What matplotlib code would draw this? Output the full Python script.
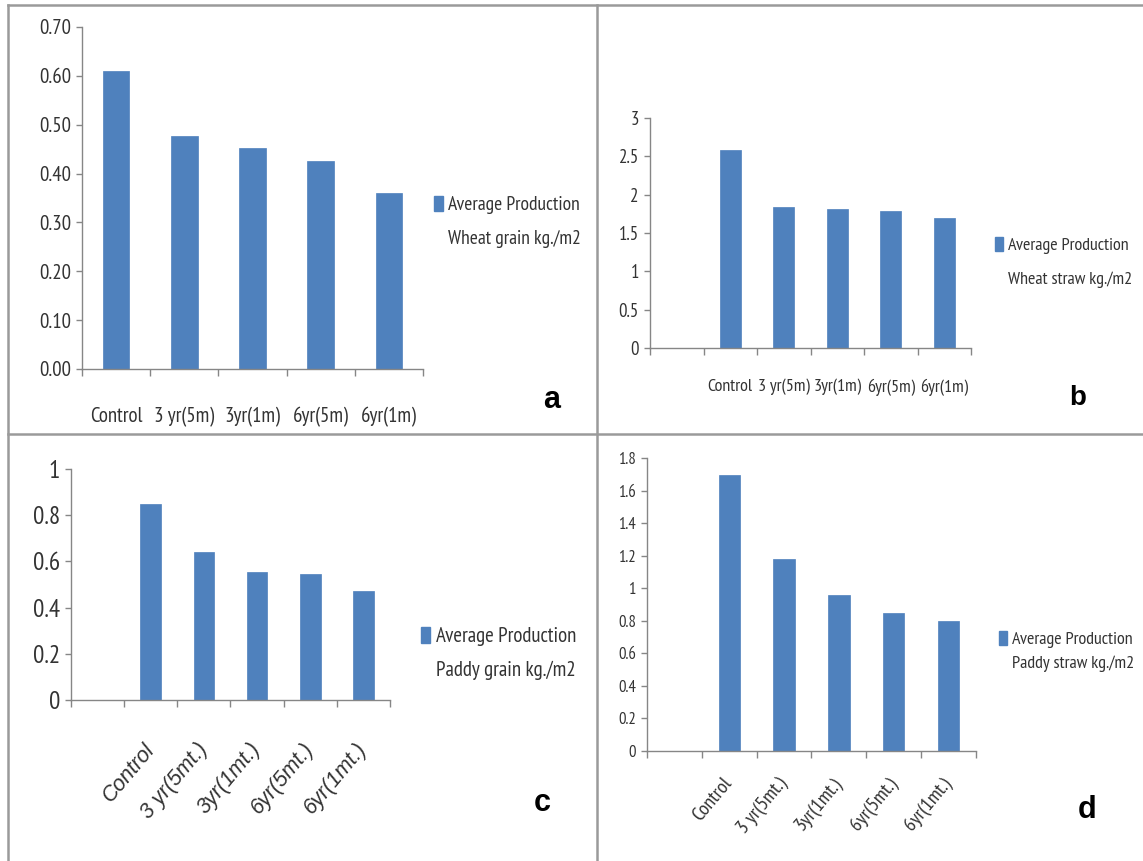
import matplotlib
matplotlib.use("Agg")
import matplotlib.pyplot as plt
from matplotlib.lines import Line2D
from matplotlib.patches import Patch
import numpy as np

# ---------------- data ----------------
cats_ab = ["Control", "3 yr(5m)", "3yr(1m)", "6yr(5m)", "6yr(1m)"]
cats_cd = ["Control", "3 yr(5mt.)", "3yr(1mt.)", "6yr(5mt.)", "6yr(1mt.)"]
wheat_grain = [0.61, 0.476, 0.452, 0.426, 0.36]
wheat_straw = [2.58, 1.84, 1.81, 1.79, 1.69]
paddy_grain = [0.85, 0.64, 0.552, 0.545, 0.473]
paddy_straw = [1.695, 1.178, 0.961, 0.845, 0.80]
legend_line1 = "Average Production"
legend_a = "Wheat grain kg./m2"
legend_b = "Wheat straw kg./m2"
legend_c = "Paddy grain kg./m2"
legend_d = "Paddy straw kg./m2"

W, H = 1143, 861
BAR = "#4F81BD"
AXC = "#868686"
TXT = "#333333"
NARROW = ["PT Sans Narrow", "Carlito", "DejaVu Sans"]
ITALIC = ["Liberation Sans", "DejaVu Sans"]
plt.rcParams["font.family"] = NARROW

fig = plt.figure(figsize=(W / 100, H / 100), dpi=100)
fig.patch.set_facecolor("white")


def rect(l, t, r, b):
    return [l / W, 1 - b / H, (r - l) / W, (b - t) / H]


def fx(x):
    return x / W


def fy(y):
    return 1 - y / H


def panel(box, cats, vals, offset, ylim, yticks, yfmt, tick_fs, cat_fs,
          cat_pad, rot, italic, leg_label, leg_xy, leg_fs, leg_sp, letter,
          letter_xy, letter_fs):
    ax = fig.add_axes(rect(*box))
    n = len(cats) + offset
    pos = np.arange(len(cats)) + offset
    ax.bar(pos, vals, width=0.39, color=BAR, edgecolor=BAR, linewidth=0.5,
           zorder=2)
    ax.set_xlim(-0.5, n - 0.5)
    ax.set_ylim(*ylim)
    ax.set_yticks(yticks)
    ax.set_yticklabels([yfmt.format(v) for v in yticks])
    ax.set_xticks(np.arange(n + 1) - 0.5)
    ax.set_xticklabels([])
    ax.set_xticks(pos, minor=True)
    ax.set_xticklabels(cats, minor=True,
                       rotation=rot,
                       ha="right" if rot else "center",
                       va="center" if rot else "top",
                       rotation_mode="anchor" if rot else "default",
                       style="italic" if italic else "normal",
                       family=ITALIC if italic else NARROW,
                       fontsize=cat_fs, color=TXT)
    ax.tick_params(axis="x", which="major", length=5, color=AXC, width=1)
    ax.tick_params(axis="x", which="minor", length=0, pad=cat_pad)
    ax.tick_params(axis="y", length=4, color=AXC, width=1, labelsize=tick_fs,
                   labelcolor=TXT, pad=4)
    for s in ("top", "right"):
        ax.spines[s].set_visible(False)
    for s in ("left", "bottom"):
        ax.spines[s].set_color(AXC)
        ax.spines[s].set_linewidth(1)
    ax.set_facecolor("none")
    h1 = Patch(facecolor=BAR, edgecolor=BAR)
    h2 = Patch(facecolor="none", edgecolor="none")
    fig.legend([h1, h2], [legend_line1, leg_label], loc="upper left",
               bbox_to_anchor=(fx(leg_xy[0]), fy(leg_xy[1])),
               bbox_transform=fig.transFigure, frameon=False,
               fontsize=leg_fs, handlelength=0.45, handleheight=0.8,
               handletextpad=0.25, borderpad=0, borderaxespad=0,
               labelcolor=TXT, labelspacing=leg_sp)
    fig.text(fx(letter_xy[0]), fy(letter_xy[1]), letter, fontsize=letter_fs,
             fontweight="bold", family=["Liberation Sans", "DejaVu Sans"],
             ha="center", va="center", color="black")
    return ax


panel((82, 27, 423, 369), cats_ab, wheat_grain, 0, (0, 0.7),
      [0, 0.1, 0.2, 0.3, 0.4, 0.5, 0.6, 0.7], "{:.2f}", 15, 15, 27, 0, False,
      legend_a, (434, 196), 14, 0.8, "a", (552, 400), 22)

panel((650, 118, 971, 348), cats_ab, wheat_straw, 1, (0, 3),
      [0, 0.5, 1, 1.5, 2, 2.5, 3], "{:g}", 13.5, 13, 22, 0, False,
      legend_b, (995, 237), 13, 0.9, "b", (1078, 398), 20)

panel((71, 469, 390, 700), cats_cd, paddy_grain, 1, (0, 1),
      [0, 0.2, 0.4, 0.6, 0.8, 1], "{:g}", 18, 15.5, 33, 50, True,
      legend_c, (421, 627), 15, 0.7, "c", (542, 803), 22)

panel((647, 458, 976, 751), cats_cd, paddy_straw, 1, (0, 1.8),
      [0, 0.2, 0.4, 0.6, 0.8, 1, 1.2, 1.4, 1.6, 1.8], "{:g}", 12, 14.5, 21,
      50, False, legend_d, (999, 631), 13, 0.38, "d", (1087, 810), 22)

# panel frame lines
LC = "#9a9a9a"
for (x0, y0, x1, y1) in [(8, 5, 1143, 5), (8, 5, 8, 861), (597, 5, 597, 861),
                         (8, 434, 1143, 434)]:
    fig.add_artist(Line2D([fx(x0), fx(x1)], [fy(y0), fy(y1)],
                          transform=fig.transFigure, color=LC, linewidth=1.8))

fig.savefig("out.png", dpi=100, facecolor="white")
